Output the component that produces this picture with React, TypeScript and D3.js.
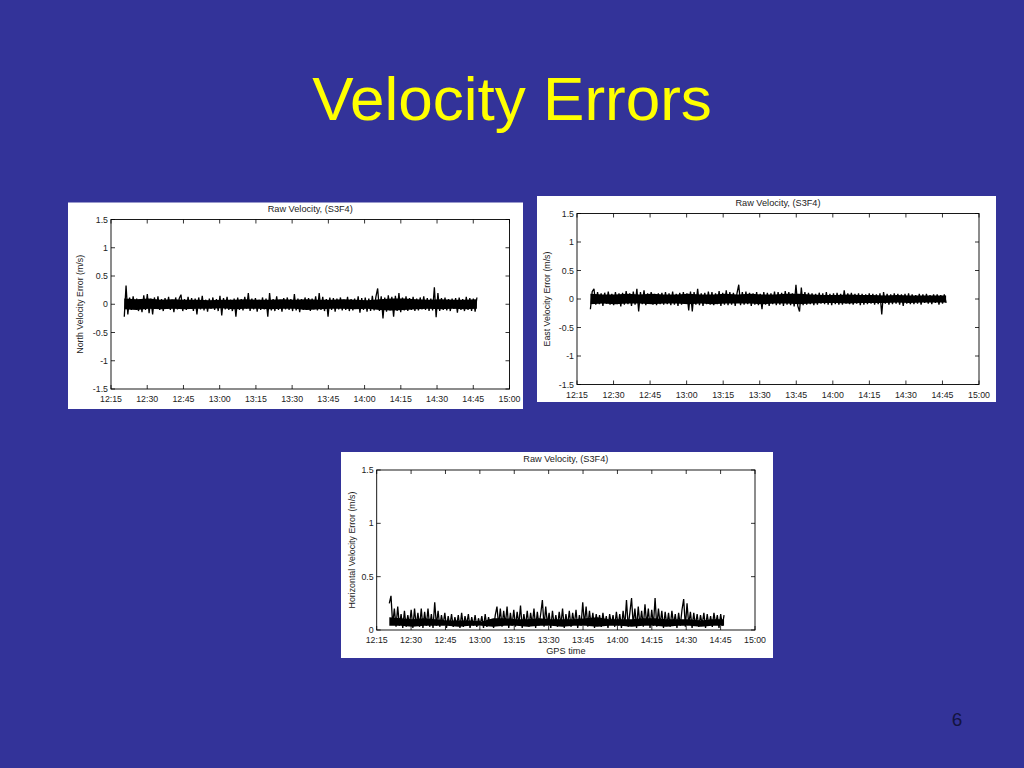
import * as d3 from "d3";

// time axis (minutes after 12:15), tick labels as in the slide
const xTickLabels = ["12:15", "12:30", "12:45", "13:00", "13:15", "13:30", "13:45", "14:00", "14:15", "14:30", "14:45", "15:00"];
const signedTicks = [-1.5, -1, -0.5, 0, 0.5, 1, 1.5];
const horizTicks = [0, 0.5, 1, 1.5];

// samples run evenly from 12:20.5 to 14:46.5
const sampleStart = "12:20.5";
const sampleEnd = "14:46.5";

const northErr = [
  -0.22, 0.33, -0.18, 0.12, -0.1, 0.14, -0.08, 0.1, -0.12, 0.08, -0.14, 0.16, -0.1, 0.18, -0.16, 0.1, -0.18, 0.12, -0.08, 0.14,
  -0.1, 0.09, -0.12, 0.11, -0.08, 0.13, -0.1, 0.08, -0.14, 0.12, -0.09, 0.1, 0.17, -0.12, 0.09, -0.1, 0.13, -0.08, 0.11, -0.12,
  0.1, -0.18, 0.12, -0.09, 0.15, -0.11, 0.08, -0.13, 0.1, -0.08, 0.12, -0.1, 0.09, -0.12, 0.15, -0.2, 0.11, -0.09, 0.13, -0.1,
  0.08, -0.12, 0.1, -0.22, 0.12, -0.1, 0.09, -0.11, 0.13, -0.08, 0.2, -0.12, 0.1, -0.09, 0.11, -0.13, 0.08, -0.1, 0.12, -0.09,
  0.1, -0.22, 0.2, -0.11, 0.09, -0.12, 0.14, -0.1, 0.08, -0.13, 0.11, -0.09, 0.12, -0.1, 0.09, -0.12, 0.18, -0.11, 0.1, -0.14,
  0.09, -0.1, 0.12, -0.08, 0.11, -0.12, 0.1, -0.09, 0.14, -0.11, 0.2, -0.1, 0.13, -0.12, 0.09, -0.22, 0.12, -0.1, 0.11, -0.13,
  0.1, -0.09, 0.12, -0.11, 0.08, -0.1, 0.13, -0.12, 0.09, -0.11, 0.1, -0.08, 0.14, -0.15, 0.11, -0.1, 0.12, -0.13, 0.1, -0.12,
  0.15, -0.11, 0.13, 0.28, -0.12, 0.14, -0.25, 0.12, -0.13, 0.16, -0.11, 0.13, -0.22, 0.15, -0.12, 0.2, -0.14, 0.12, -0.11, 0.14,
  -0.12, 0.11, -0.1, 0.13, -0.12, 0.1, -0.11, 0.12, -0.09, 0.14, -0.1, 0.11, -0.12, 0.1, -0.11, 0.3, -0.23, 0.2, -0.12, 0.11,
  -0.1, 0.12, -0.11, 0.09, -0.12, 0.1, -0.08, 0.11, -0.15, 0.12, -0.1, 0.09, -0.12, 0.13, -0.1, 0.11, -0.12, 0.1, -0.13, 0.12,
];
// dense core of the trace, read every ~5 min (upper / lower edge)
const northCoreHi = [0.1, 0.09, 0.1, 0.08, 0.09, 0.08, 0.08, 0.07, 0.08, 0.08, 0.09, 0.08, 0.08, 0.09, 0.08, 0.09, 0.08, 0.08, 0.09, 0.08, 0.07, 0.09, 0.1, 0.1, 0.09, 0.08, 0.09, 0.08, 0.08, 0.09];
const northCoreLo = [-0.09, -0.1, -0.08, -0.09, -0.08, -0.09, -0.08, -0.08, -0.07, -0.09, -0.08, -0.08, -0.09, -0.08, -0.08, -0.1, -0.09, -0.08, -0.08, -0.09, -0.08, -0.1, -0.11, -0.1, -0.09, -0.08, -0.09, -0.08, -0.09, -0.08];

const eastErr = [
  -0.18, 0.13, 0.18, -0.1, 0.12, -0.09, 0.1, -0.12, 0.11, -0.08, 0.13, -0.1, 0.09, -0.11, 0.12, -0.09, 0.1, -0.13, 0.11, -0.1,
  0.14, -0.09, 0.1, -0.12, 0.13, -0.1, 0.18, -0.22, 0.12, -0.09, 0.15, -0.11, 0.1, -0.08, 0.12, -0.1, 0.09, -0.11, 0.1, -0.09,
  0.11, -0.1, 0.12, -0.09, 0.1, -0.11, 0.13, -0.1, 0.09, -0.12, 0.11, -0.1, 0.12, -0.08, 0.1, -0.2, 0.13, -0.22, 0.12, -0.1,
  0.18, -0.11, 0.1, -0.12, 0.11, -0.09, 0.13, -0.1, 0.12, -0.11, 0.1, -0.09, 0.14, -0.12, 0.11, -0.1, 0.15, -0.11, 0.12, -0.1,
  0.11, -0.12, 0.1, 0.25, -0.11, 0.12, -0.1, 0.13, -0.09, 0.11, -0.12, 0.1, -0.1, 0.12, -0.11, 0.09, -0.18, 0.12, -0.1, 0.11,
  -0.12, 0.1, -0.09, 0.13, -0.11, 0.12, -0.1, 0.11, -0.12, 0.14, -0.1, 0.12, -0.11, 0.1, -0.13, 0.25, -0.12, -0.22, 0.2, -0.11,
  0.12, -0.1, 0.11, -0.09, 0.1, -0.11, 0.09, -0.1, 0.11, -0.08, 0.1, -0.09, 0.12, -0.1, 0.09, -0.11, 0.1, -0.09, 0.11, -0.1,
  0.09, -0.1, 0.15, -0.08, 0.1, -0.09, 0.11, -0.1, 0.09, -0.08, 0.1, -0.11, 0.09, -0.1, 0.08, -0.09, 0.1, -0.08, 0.09, -0.1,
  0.08, -0.09, 0.1, -0.27, 0.12, -0.08, 0.09, -0.1, 0.08, -0.09, 0.1, -0.08, 0.09, -0.1, 0.08, -0.12, 0.09, -0.08, 0.1, -0.09,
  0.08, -0.09, 0.07, -0.08, 0.09, -0.1, 0.08, -0.07, 0.09, -0.08, 0.07, -0.09, 0.08, -0.07, 0.08, -0.1, 0.07, -0.08, 0.08, -0.07,
];
const eastCoreHi = [0.09, 0.08, 0.08, 0.09, 0.08, 0.09, 0.08, 0.08, 0.09, 0.08, 0.08, 0.09, 0.08, 0.09, 0.08, 0.08, 0.09, 0.09, 0.08, 0.07, 0.07, 0.08, 0.07, 0.07, 0.06, 0.07, 0.06, 0.06, 0.06, 0.06];
const eastCoreLo = [-0.09, -0.08, -0.09, -0.08, -0.08, -0.09, -0.08, -0.08, -0.09, -0.08, -0.09, -0.08, -0.08, -0.08, -0.09, -0.08, -0.08, -0.09, -0.08, -0.07, -0.07, -0.08, -0.07, -0.07, -0.07, -0.06, -0.07, -0.06, -0.06, -0.06];

const horizErr = [
  0.25, 0.32, 0.05, 0.2, 0.03, 0.22, 0.04, 0.15, 0.02, 0.18, 0.03, 0.14, 0.05, 0.19, 0.02, 0.2, 0.04, 0.16, 0.03, 0.2,
  0.02, 0.17, 0.04, 0.2, 0.03, 0.15, 0.02, 0.26, 0.04, 0.18, 0.03, 0.14, 0.05, 0.16, 0.02, 0.13, 0.04, 0.15, 0.03, 0.12,
  0.04, 0.14, 0.02, 0.16, 0.03, 0.13, 0.05, 0.15, 0.02, 0.12, 0.04, 0.14, 0.03, 0.11, 0.05, 0.13, 0.02, 0.15, 0.03, 0.12,
  0.04, 0.1, 0.02, 0.14, 0.22, 0.04, 0.2, 0.03, 0.18, 0.05, 0.22, 0.02, 0.16, 0.04, 0.19, 0.03, 0.17, 0.05, 0.23, 0.02,
  0.15, 0.04, 0.18, 0.03, 0.16, 0.05, 0.2, 0.02, 0.17, 0.04, 0.15, 0.28, 0.03, 0.22, 0.05, 0.16, 0.02, 0.18, 0.04, 0.14,
  0.03, 0.17, 0.05, 0.2, 0.02, 0.15, 0.04, 0.18, 0.03, 0.16, 0.05, 0.19, 0.02, 0.14, 0.04, 0.26, 0.05, 0.22, 0.03, 0.18,
  0.04, 0.16, 0.02, 0.15, 0.05, 0.14, 0.03, 0.16, 0.04, 0.13, 0.02, 0.15, 0.05, 0.14, 0.03, 0.17, 0.04, 0.15, 0.02, 0.18,
  0.04, 0.28, 0.03, 0.16, 0.3, 0.05, 0.2, 0.02, 0.22, 0.04, 0.18, 0.03, 0.24, 0.05, 0.2, 0.02, 0.19, 0.04, 0.3, 0.03,
  0.2, 0.05, 0.18, 0.02, 0.17, 0.04, 0.16, 0.03, 0.18, 0.05, 0.15, 0.02, 0.16, 0.04, 0.19, 0.29, 0.03, 0.25, 0.05, 0.17,
  0.02, 0.16, 0.04, 0.15, 0.03, 0.14, 0.05, 0.16, 0.02, 0.15, 0.04, 0.13, 0.03, 0.16, 0.05, 0.14, 0.02, 0.15, 0.04, 0.14,
];
const horizCoreHi = [0.12, 0.11, 0.1, 0.11, 0.1, 0.09, 0.09, 0.09, 0.08, 0.11, 0.11, 0.1, 0.1, 0.11, 0.1, 0.1, 0.1, 0.11, 0.12, 0.1, 0.1, 0.1, 0.11, 0.11, 0.1, 0.1, 0.1, 0.09, 0.1, 0.1];
const horizCoreLo = [0.04, 0.04, 0.03, 0.04, 0.04, 0.04, 0.03, 0.04, 0.04, 0.03, 0.04, 0.04, 0.03, 0.04, 0.04, 0.03, 0.04, 0.04, 0.03, 0.04, 0.04, 0.03, 0.04, 0.04, 0.03, 0.04, 0.04, 0.03, 0.04, 0.04];

const toMin = (s: string) => {
  const [h, m] = s.split(":").map(Number);
  return (h - 12) * 60 + m - 15;
};

const font = "'Liberation Sans', Arial, Helvetica, sans-serif";
const ink = "#222";

type Box = { x: number; y: number; w: number; h: number };
type PlotProps = {
  panel: Box;
  area: { left: number; top: number; right: number; bottom: number };
  values: number[];
  coreHi: number[];
  coreLo: number[];
  yDomain: [number, number];
  yTicks: number[];
  yLabel: string;
  yLabelX: number;
  xLabel?: string;
};

function Plot({ panel, area, values, coreHi, coreLo, yDomain, yTicks, yLabel, yLabelX, xLabel }: PlotProps) {
  const x = d3.scaleLinear().domain([toMin(xTickLabels[0]), toMin(xTickLabels[xTickLabels.length - 1])]).range([area.left, area.right]);
  const y = d3.scaleLinear().domain(yDomain).range([area.bottom, area.top]);
  const t0 = toMin(sampleStart);
  const t1 = toMin(sampleEnd);
  const step = (t1 - t0) / (values.length - 1);
  const line = d3
    .line<number>()
    .x((_, i) => x(t0 + i * step))
    .y((d) => y(d));
  const coreStep = (t1 - t0) / (coreHi.length - 1);
  const band = d3
    .area<number>()
    .x((_, i) => x(t0 + i * coreStep))
    .y0((_, i) => y(coreLo[i]))
    .y1((d) => y(d));
  const tl = 4;
  const midY = (area.top + area.bottom) / 2;

  return (
    <g>
      <rect x={panel.x} y={panel.y} width={panel.w} height={panel.h} fill="#fff" />
      <text x={(area.left + area.right) / 2} y={area.top - 8} textAnchor="middle" fontSize={9.2} fill={ink} fontFamily={font}>
        Raw Velocity, (S3F4)
      </text>
      <path d={band(coreHi) ?? ""} fill="#000" />
      <path d={line(values) ?? ""} fill="none" stroke="#000" strokeWidth={1.3} strokeLinejoin="bevel" />
      <rect x={area.left} y={area.top} width={area.right - area.left} height={area.bottom - area.top} fill="none" stroke="#000" strokeWidth={0.9} />
      {xTickLabels.map((lab) => {
        const px = x(toMin(lab));
        return (
          <g key={lab}>
            <line x1={px} x2={px} y1={area.bottom} y2={area.bottom - tl} stroke="#000" strokeWidth={0.8} />
            <line x1={px} x2={px} y1={area.top} y2={area.top + tl} stroke="#000" strokeWidth={0.8} />
            <text x={px} y={area.bottom + 13} textAnchor="middle" fontSize={8.8} fill={ink} fontFamily={font}>
              {lab}
            </text>
          </g>
        );
      })}
      {yTicks.map((v) => {
        const py = y(v);
        return (
          <g key={v}>
            <line x1={area.left} x2={area.left + tl} y1={py} y2={py} stroke="#000" strokeWidth={0.8} />
            <line x1={area.right} x2={area.right - tl} y1={py} y2={py} stroke="#000" strokeWidth={0.8} />
            <text x={area.left - 3} y={py + 3} textAnchor="end" fontSize={8.8} fill={ink} fontFamily={font}>
              {String(v)}
            </text>
          </g>
        );
      })}
      <text
        transform={`translate(${yLabelX},${midY}) rotate(-90)`}
        textAnchor="middle"
        dominantBaseline="middle"
        fontSize={8.8}
        fill={ink}
        fontFamily={font}
      >
        {yLabel}
      </text>
      {xLabel && (
        <text x={(area.left + area.right) / 2} y={area.bottom + 24} textAnchor="middle" fontSize={9.2} fill={ink} fontFamily={font}>
          {xLabel}
        </text>
      )}
    </g>
  );
}

export default function App() {
  return (
    <svg width={1024} height={768} style={{ position: "absolute", left: 0, top: 0 }}>
      <rect width={1024} height={768} fill="#333399" />
      <text x={512} y={120} textAnchor="middle" fontSize={62} fill="#ffff00" fontFamily={font}>
        Velocity Errors
      </text>
      <Plot
        panel={{ x: 68, y: 202.5, w: 455, h: 206.5 }}
        area={{ left: 111, top: 219.5, right: 509.5, bottom: 389 }}
        values={northErr}
        coreHi={northCoreHi}
        coreLo={northCoreLo}
        yDomain={[-1.5, 1.5]}
        yTicks={signedTicks}
        yLabel="North Velocity Error (m/s)"
        yLabelX={81}
      />
      <Plot
        panel={{ x: 537, y: 196, w: 459, h: 206 }}
        area={{ left: 577, top: 213.5, right: 979, bottom: 384.5 }}
        values={eastErr}
        coreHi={eastCoreHi}
        coreLo={eastCoreLo}
        yDomain={[-1.5, 1.5]}
        yTicks={signedTicks}
        yLabel="East Velocity Error (m/s)"
        yLabelX={548}
      />
      <Plot
        panel={{ x: 341, y: 452, w: 432, h: 206 }}
        area={{ left: 376.7, top: 470, right: 755, bottom: 630 }}
        values={horizErr}
        coreHi={horizCoreHi}
        coreLo={horizCoreLo}
        yDomain={[0, 1.5]}
        yTicks={horizTicks}
        yLabel="Horizontal Velocity Error (m/s)"
        yLabelX={353}
        xLabel="GPS time"
      />
      <text x={957} y={726} textAnchor="middle" fontSize={19} fill="#141440" fontFamily={font}>
        6
      </text>
    </svg>
  );
}
